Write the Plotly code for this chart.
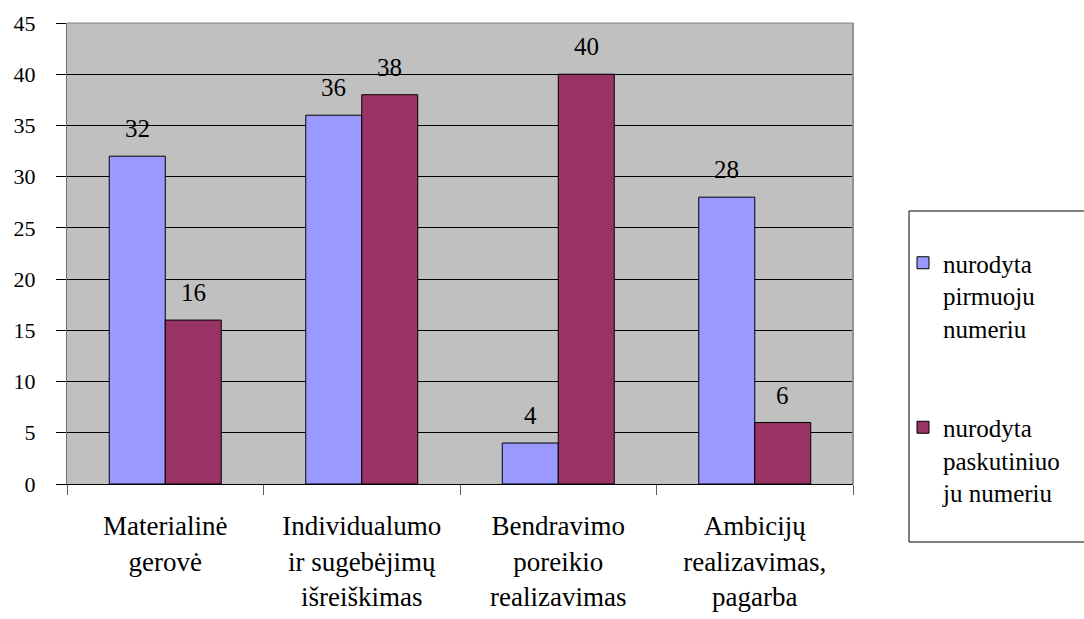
import plotly.graph_objects as go

# Survey answers by value category
categories = [
    "Materialinė<br>gerovė",
    "Individualumo<br>ir sugebėjimų<br>išreiškimas",
    "Bendravimo<br>poreikio<br>realizavimas",
    "Ambicijų<br>realizavimas,<br>pagarba",
]
first_choice = [32, 36, 4, 28]
last_choice = [16, 38, 40, 6]
series_names = ["nurodyta<br>pirmuoju<br>numeriu", "nurodyta<br>paskutiniuo<br>ju numeriu"]
series_colors = ["#9999FF", "#993366"]
y_ticks = list(range(0, 50, 5))

FONT = "Liberation Serif, Times New Roman, serif"
W, H = 1084, 619
ML, MR, MT, MB = 67, 231, 23, 135
plot_w = W - ML - MR
plot_h = H - MT - MB


def px_x(px):
    return (px - ML) / plot_w


def px_y(py):
    return (H - MB - py) / plot_h


fig = go.Figure()
for i, (name, vals, col) in enumerate(zip(series_names, [first_choice, last_choice], series_colors)):
    fig.add_trace(go.Bar(
        x=categories, y=vals, name=name, legendgroup=f"g{i}",
        marker=dict(color=col, line=dict(color="black", width=1)),
    ))

# value labels above each bar
bar_half = 28
for vals, shift in [(first_choice, -bar_half), (last_choice, bar_half)]:
    for c, v in zip(categories, vals):
        fig.add_annotation(
            x=c, y=v, xref="x", yref="y", text=str(v), showarrow=False,
            xshift=shift, yshift=12, yanchor="bottom",
            font=dict(family=FONT, size=25, color="black"),
        )

# plot area top/right border and legend frame
fig.add_shape(type="line", xref="paper", yref="paper", x0=0, x1=1, y0=1, y1=1,
              line=dict(color="#808080", width=1), layer="above")
fig.add_shape(type="line", xref="paper", yref="paper", x0=1, x1=1, y0=0, y1=1,
              line=dict(color="#909090", width=2), layer="above")
fig.add_shape(type="rect", xref="paper", yref="paper",
              x0=px_x(909), x1=px_x(1095), y0=px_y(542), y1=px_y(211),
              line=dict(color="black", width=1), fillcolor="rgba(0,0,0,0)")

fig.update_layout(
    width=W, height=H,
    margin=dict(l=ML, r=MR, t=MT, b=MB, autoexpand=False),
    paper_bgcolor="white", plot_bgcolor="#C0C0C0",
    barmode="group", bargap=0.43, bargroupgap=0,
    font=dict(family=FONT, color="black"),
    showlegend=True,
    legend=dict(
        x=px_x(903), xanchor="left", y=px_y(240), yanchor="top",
        font=dict(family=FONT, size=25, color="black"),
        bgcolor="rgba(0,0,0,0)", borderwidth=0,
        tracegroupgap=64, valign="top", traceorder="grouped",
    ),
    xaxis=dict(
        type="category", showline=True, linecolor="black", linewidth=1,
        ticks="outside", tickson="boundaries", ticklen=10, tickcolor="#606060",
        tickfont=dict(family=FONT, size=27, color="black"),
        ticklabelstandoff=18, showgrid=False,
    ),
    yaxis=dict(
        range=[0, 45], tickvals=y_ticks, ticks="outside", ticklen=10,
        tickcolor="black", showline=True, linecolor="#707070", linewidth=1,
        showgrid=True, gridcolor="black", gridwidth=1, zeroline=False,
        tickfont=dict(family=FONT, size=22, color="black"),
        ticklabelstandoff=16,
    ),
)

fig.write_html("out.html")
